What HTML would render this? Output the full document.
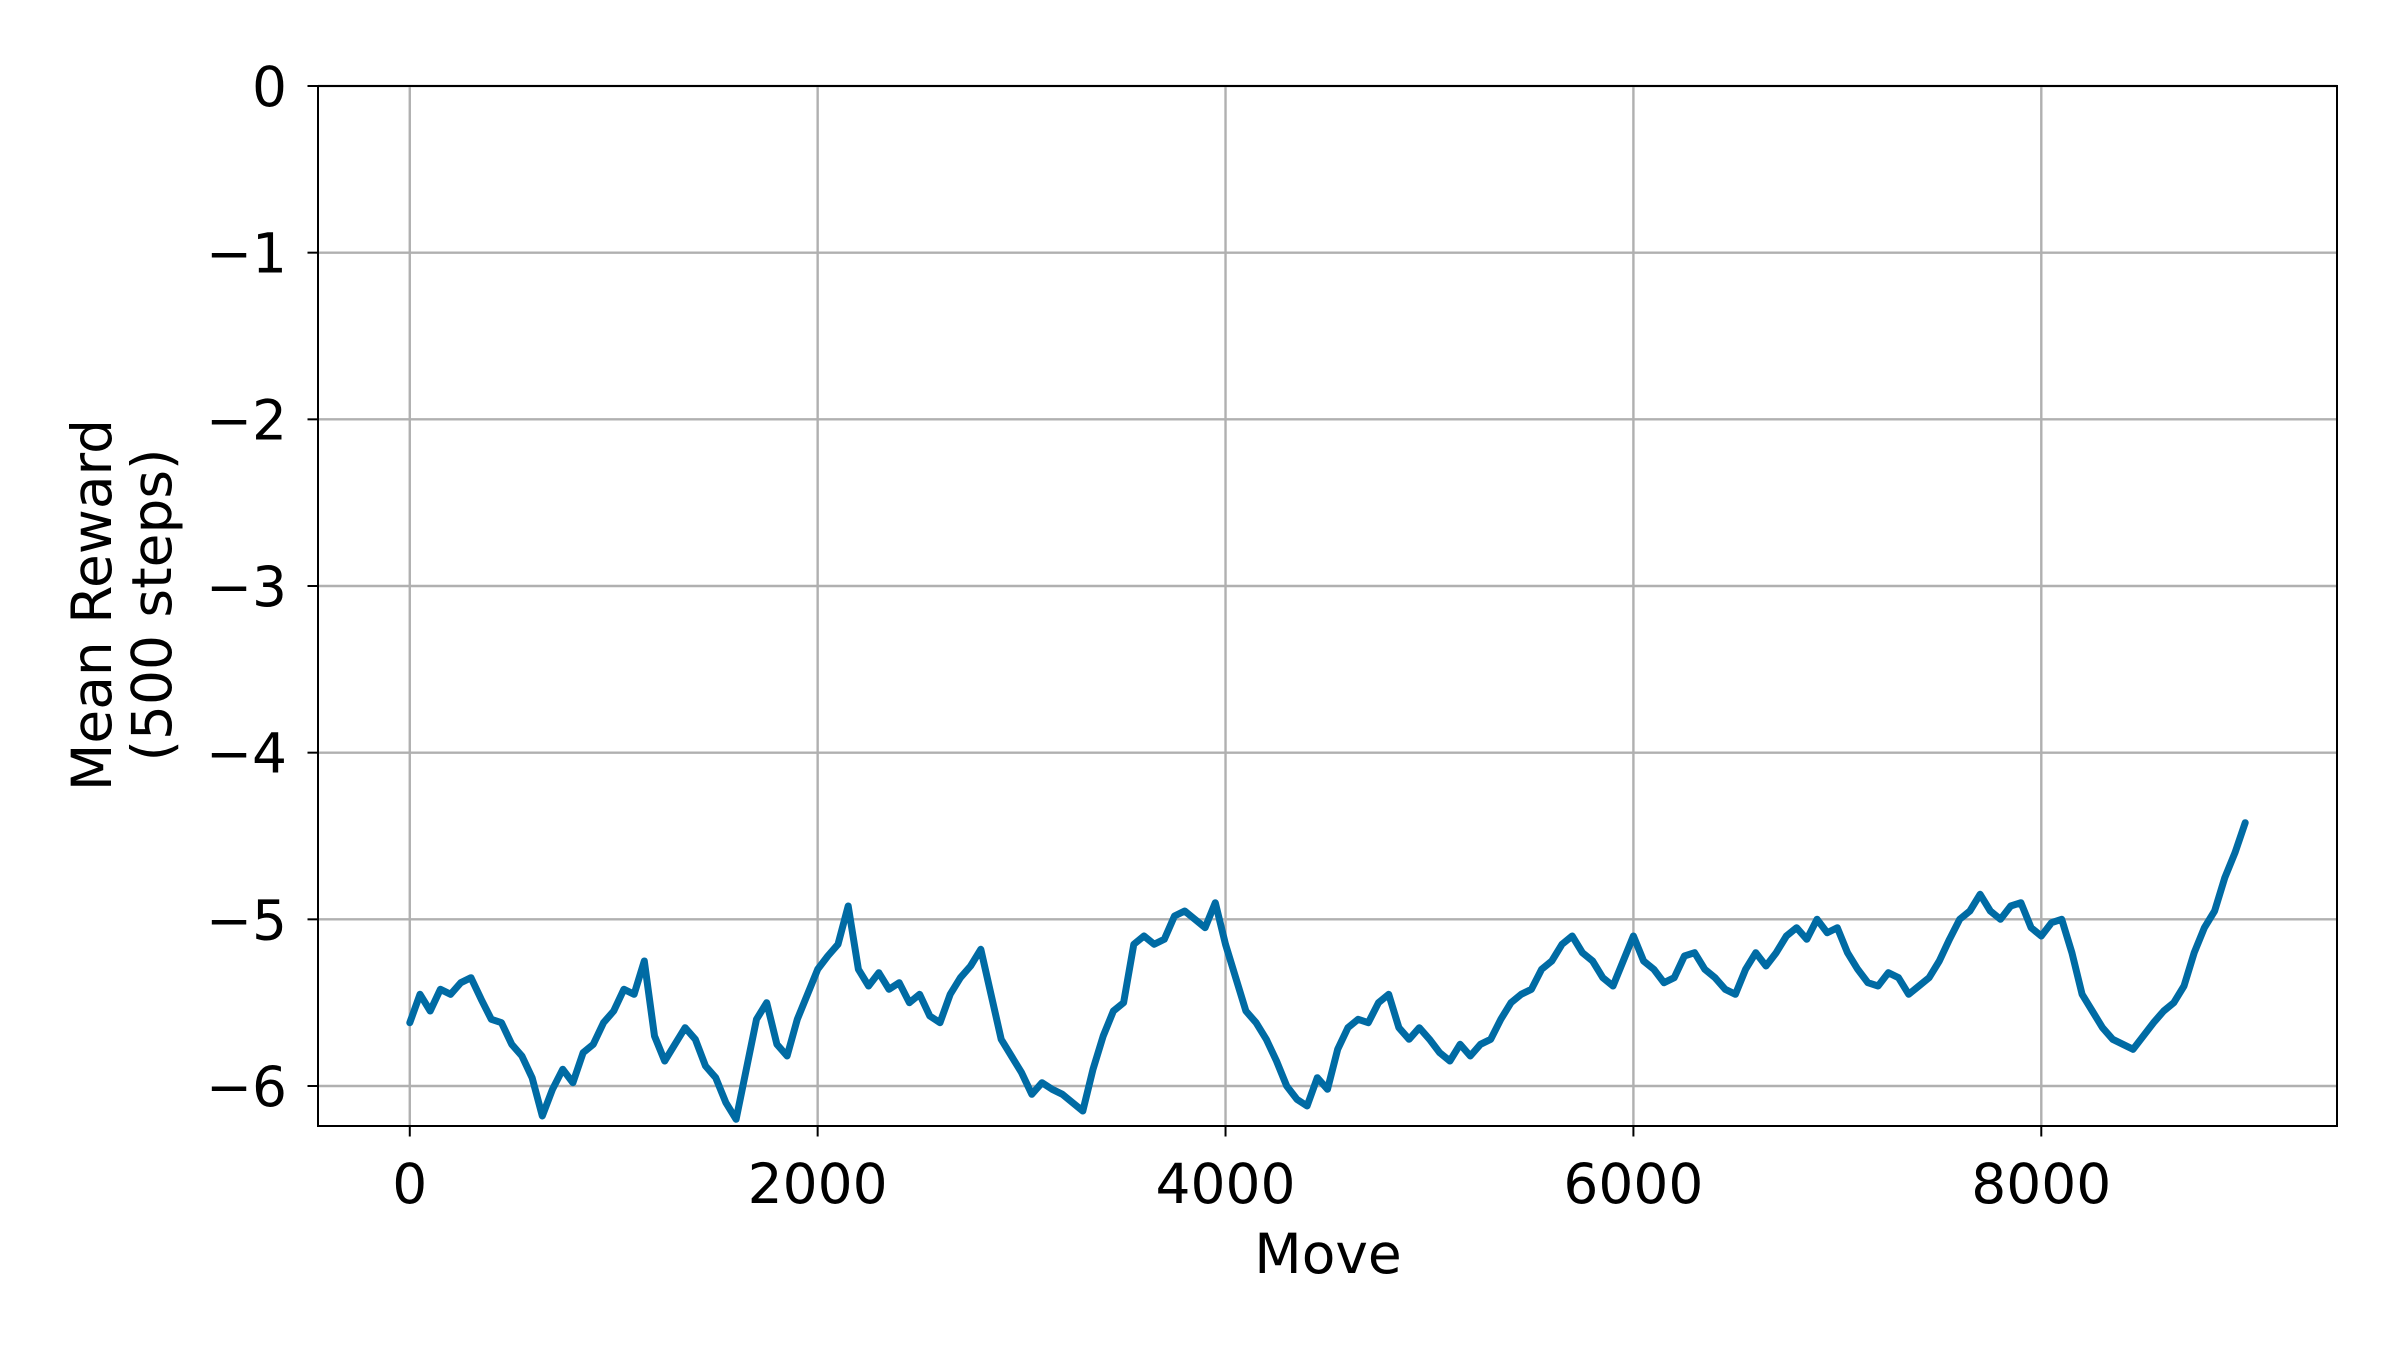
<!DOCTYPE html>
<html><head><meta charset="utf-8"><style>
html,body{margin:0;padding:0;background:#fff;}
svg{display:block;font-family:"DejaVu Sans","Liberation Sans",sans-serif;}
</style></head><body>
<svg id="chart" width="2400" height="1350" viewBox="0 0 2400 1350" xmlns="http://www.w3.org/2000/svg">
<rect x="0" y="0" width="2400" height="1350" fill="#fff"/>
<g id="grid"></g>
<g id="series"></g>
<rect x="318" y="86" width="2019" height="1040" fill="none" stroke="#000" stroke-width="2"/>
<g id="ticks"></g>
<text x="1328" y="1273" font-size="55" text-anchor="middle">Move</text>
<text transform="translate(111,605) rotate(-90)" font-size="55" text-anchor="middle">Mean Reward</text>
<text transform="translate(171,605) rotate(-90)" font-size="55" text-anchor="middle">(500 steps)</text>
</svg>
<script>
const xTicks = [0, 2000, 4000, 6000, 8000];
const xTickLabels = ["0", "2000", "4000", "6000", "8000"];
const yTicks = [0, -1, -2, -3, -4, -5, -6];
const yTickLabels = ["0", "\u22121", "\u22122", "\u22123", "\u22124", "\u22125", "\u22126"];
const moveStep = 50;
const rewards = [
-5.62,-5.45,-5.55,-5.42,-5.45,-5.38,-5.35,-5.48,-5.60,-5.62,
-5.75,-5.82,-5.95,-6.18,-6.02,-5.90,-5.98,-5.80,-5.75,-5.62,
-5.55,-5.42,-5.45,-5.25,-5.70,-5.85,-5.75,-5.65,-5.72,-5.88,
-5.95,-6.10,-6.20,-5.90,-5.60,-5.50,-5.75,-5.82,-5.60,-5.45,
-5.30,-5.22,-5.15,-4.92,-5.30,-5.40,-5.32,-5.42,-5.38,-5.50,
-5.45,-5.58,-5.62,-5.45,-5.35,-5.28,-5.18,-5.45,-5.72,-5.82,
-5.92,-6.05,-5.98,-6.02,-6.05,-6.10,-6.15,-5.90,-5.70,-5.55,
-5.50,-5.15,-5.10,-5.15,-5.12,-4.98,-4.95,-5.00,-5.05,-4.90,
-5.15,-5.35,-5.55,-5.62,-5.72,-5.85,-6.00,-6.08,-6.12,-5.95,
-6.02,-5.78,-5.65,-5.60,-5.62,-5.50,-5.45,-5.65,-5.72,-5.65,
-5.72,-5.80,-5.85,-5.75,-5.82,-5.75,-5.72,-5.60,-5.50,-5.45,
-5.42,-5.30,-5.25,-5.15,-5.10,-5.20,-5.25,-5.35,-5.40,-5.25,
-5.10,-5.25,-5.30,-5.38,-5.35,-5.22,-5.20,-5.30,-5.35,-5.42,
-5.45,-5.30,-5.20,-5.28,-5.20,-5.10,-5.05,-5.12,-5.00,-5.08,
-5.05,-5.20,-5.30,-5.38,-5.40,-5.32,-5.35,-5.45,-5.40,-5.35,
-5.25,-5.12,-5.00,-4.95,-4.85,-4.95,-5.00,-4.92,-4.90,-5.05,
-5.10,-5.02,-5.00,-5.20,-5.45,-5.55,-5.65,-5.72,-5.75,-5.78,
-5.70,-5.62,-5.55,-5.50,-5.40,-5.20,-5.05,-4.95,-4.75,-4.60,
-4.42
];
const X0 = 318, X1 = 2337, XMIN = -450, XMAX = 9450;
const Y0 = 86, Y1 = 1126, YMAX = 0, YMIN = -6.24;
function xs(v){ return X0 + (v - XMIN) / (XMAX - XMIN) * (X1 - X0); }
function ys(v){ return Y0 + (YMAX - v) / (YMAX - YMIN) * (Y1 - Y0); }
const NS = "http://www.w3.org/2000/svg";
const grid = document.getElementById('grid');
const ticks = document.getElementById('ticks');
xTicks.forEach((t, i) => {
  const gl = document.createElementNS(NS, 'line');
  
  
  gl.setAttribute('x1', xs(t)); gl.setAttribute('x2', xs(t));
  gl.setAttribute('y1', Y0); gl.setAttribute('y2', Y1);
  gl.setAttribute('stroke', '#b0b0b0'); gl.setAttribute('stroke-width', '2.4');
  grid.appendChild(gl);
  const tk = document.createElementNS(NS, 'line');
  
  
  tk.setAttribute('x1', xs(t)); tk.setAttribute('x2', xs(t));
  tk.setAttribute('y1', Y1); tk.setAttribute('y2', Y1 + 10.5);
  tk.setAttribute('stroke', '#000'); tk.setAttribute('stroke-width', '2');
  ticks.appendChild(tk);
  const tx = document.createElementNS(NS, 'text');
  
  
  tx.setAttribute('x', xs(t)); tx.setAttribute('y', Y1 + 77);
  tx.setAttribute('font-size', '55'); tx.setAttribute('text-anchor', 'middle');
  tx.textContent = xTickLabels[i];
  ticks.appendChild(tx);
});
yTicks.forEach((t, i) => {
  const gl = document.createElementNS(NS, 'line');
  
  
  gl.setAttribute('x1', X0); gl.setAttribute('x2', X1);
  gl.setAttribute('y1', ys(t)); gl.setAttribute('y2', ys(t));
  gl.setAttribute('stroke', '#b0b0b0'); gl.setAttribute('stroke-width', '2.4');
  grid.appendChild(gl);
  const tk = document.createElementNS(NS, 'line');
  
  
  tk.setAttribute('x1', X0 - 10.5); tk.setAttribute('x2', X0);
  tk.setAttribute('y1', ys(t)); tk.setAttribute('y2', ys(t));
  tk.setAttribute('stroke', '#000'); tk.setAttribute('stroke-width', '2');
  ticks.appendChild(tk);
  const tx = document.createElementNS(NS, 'text');
  
  
  tx.setAttribute('x', X0 - 31); tx.setAttribute('y', ys(t) + 20);
  tx.setAttribute('font-size', '55'); tx.setAttribute('text-anchor', 'end');
  tx.textContent = yTickLabels[i];
  ticks.appendChild(tx);
});
const pts = rewards.map((r, i) => xs(i * moveStep).toFixed(1) + ',' + ys(r).toFixed(1)).join(' ');
const line = document.createElementNS(NS, 'polyline');


line.setAttribute('points', pts);
line.setAttribute('fill', 'none');
line.setAttribute('stroke', '#006BA4');
line.setAttribute('stroke-width', '7');
line.setAttribute('stroke-linejoin', 'round');
line.setAttribute('stroke-linecap', 'round');
document.getElementById('series').appendChild(line);
</script>
</body></html>
